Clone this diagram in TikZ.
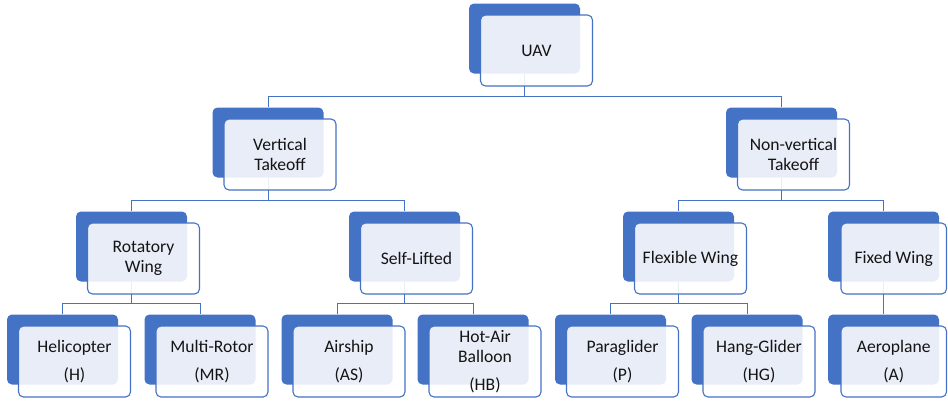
\documentclass[tikz,border=0pt]{standalone}
\usepackage{fontspec}
\setmainfont{Carlito}
\usetikzlibrary{backgrounds}
\definecolor{accent}{HTML}{4472C4}
\definecolor{ink}{HTML}{141414}

% one tier box: solid back plate plus a lighter, offset front card holding the text
\newcommand{\tierbox}[5][]{%
  \node[backbox] (#2b) at (#3,#4) {};
  \node[frontbox,#1] (#2) at (#3+12,#4+12) {#5};}

\begin{document}
\begin{tikzpicture}[x=1pt,y=-1pt,
  backbox/.style={fill=accent, rounded corners=5pt, minimum width=111pt,
    minimum height=70pt, inner sep=0pt},
  frontbox/.style={draw=accent, line width=1.1pt, fill=white, fill opacity=0.88,
    text opacity=1, rounded corners=5pt, minimum width=112pt, minimum height=71pt,
    inner sep=2pt, align=center, text=ink,
    font=\fontsize{17.6}{20.5}\selectfont},
  edgebox/.style={minimum width=105.5pt, xshift=-1.75pt},
  link/.style={draw=accent, line width=1pt}]
\useasboundingbox (0,0) rectangle (948,400);

% root
\tierbox{uav}{524.5}{38.5}{UAV}
% first level
\tierbox{vt}{268}{142.5}{Vertical\\Takeoff}
\tierbox{nvt}{781.5}{142.5}{Non-vertical\\Takeoff}
% second level
\tierbox{rw}{131.5}{246.5}{Rotatory\\Wing}
\tierbox{sl}{404.5}{246.5}{Self-Lifted}
\tierbox{flw}{678.5}{246.5}{Flexible Wing}
\tierbox[edgebox]{fxw}{883.5}{246.5}{Fixed Wing}
% leaves
\tierbox{hel}{62.5}{349.5}{Helicopter\\[7.5pt](H)}
\tierbox{mr}{200}{349.5}{Multi-Rotor\\[7.5pt](MR)}
\tierbox{as}{337}{349.5}{Airship\\[7.5pt](AS)}
\tierbox{hb}{473}{349.5}{Hot-Air\\Balloon\\[7.5pt](HB)}
\tierbox{pg}{610.5}{349.5}{Paraglider\\[7.5pt](P)}
\tierbox{hg}{747}{349.5}{Hang-Glider\\[7.5pt](HG)}
\tierbox[edgebox]{ap}{883.5}{349.5}{Aeroplane\\[7.5pt](A)}

% connectors, kept behind the boxes
\begin{scope}[on background layer]
  \draw[link] (uavb.south) -- ++(0,22.5) coordinate (j0);
  \draw[link] (j0) -| (vtb.north);
  \draw[link] (j0) -| (nvtb.north);

  \draw[link] (vtb.south) -- ++(0,22.5) coordinate (j1);
  \draw[link] (j1) -| (rwb.north);
  \draw[link] (j1) -| (slb.north);

  \draw[link] (nvtb.south) -- ++(0,22.5) coordinate (j2);
  \draw[link] (j2) -| (flwb.north);
  \draw[link] (j2) -| (fxwb.north);

  \draw[link] (rwb.south) -- ++(0,21.5) coordinate (j3);
  \draw[link] (j3) -| (helb.north);
  \draw[link] (j3) -| (mrb.north);

  \draw[link] (slb.south) -- ++(0,21.5) coordinate (j4);
  \draw[link] (j4) -| (asb.north);
  \draw[link] (j4) -| (hbb.north);

  \draw[link] (flwb.south) -- ++(0,21.5) coordinate (j5);
  \draw[link] (j5) -| (pgb.north);
  \draw[link] (j5) -| (hgb.north);

  \draw[link] (fxwb.south) -- (apb.north);
\end{scope}
\end{tikzpicture}
\end{document}
